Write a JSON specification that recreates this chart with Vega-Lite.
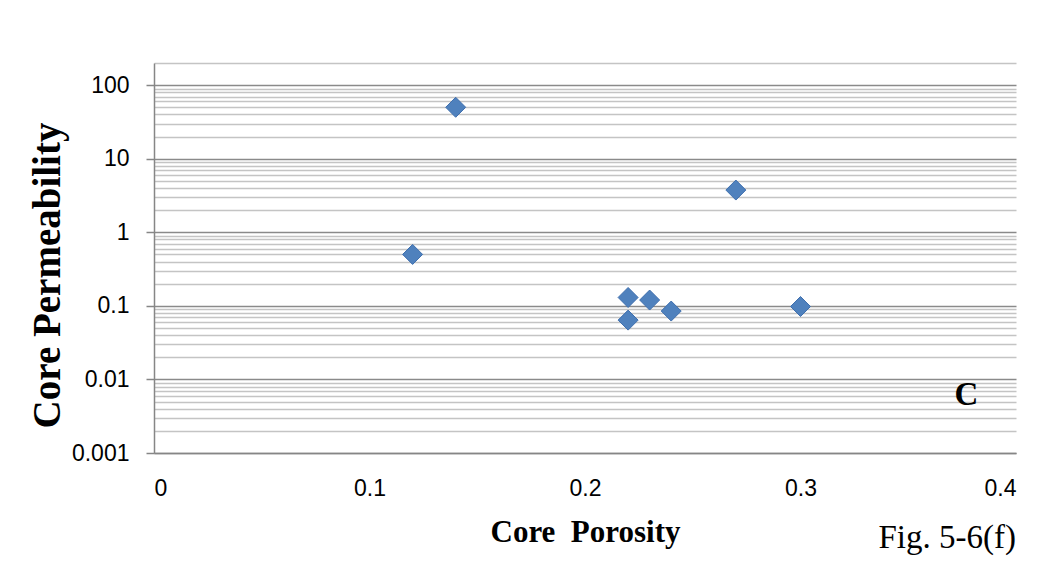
{
  "$schema": "https://vega.github.io/schema/vega-lite/v6.json",
  "autosize": {"type": "none"},
  "padding": {"left": 154, "top": 63, "right": 39, "bottom": 112},
  "width": 862,
  "height": 390,
  "background": "white",
  "title": {
    "text": "Fig. 5-6(f)",
    "orient": "bottom",
    "anchor": "end",
    "font": "Liberation Serif",
    "fontSize": 33,
    "fontWeight": "normal",
    "color": "#000000",
    "offset": -25
  },
  "data": {
    "values": [
      {"porosity": 0.14, "permeability": 50},
      {"porosity": 0.12, "permeability": 0.5},
      {"porosity": 0.22, "permeability": 0.13},
      {"porosity": 0.22, "permeability": 0.064},
      {"porosity": 0.23, "permeability": 0.12},
      {"porosity": 0.24, "permeability": 0.085},
      {"porosity": 0.27, "permeability": 3.75},
      {"porosity": 0.30, "permeability": 0.098}
    ]
  },
  "config": {
    "view": {"stroke": null},
    "axis": {"labelFont": "Liberation Sans", "labelFontSize": 23, "labelColor": "#000000", "titleColor": "#000000"}
  },
  "encoding": {
    "x": {
      "field": "porosity", "type": "quantitative",
      "scale": {"domain": [0, 0.4], "nice": false, "zero": false},
      "axis": {
        "values": [0, 0.1, 0.2, 0.3, 0.4], "format": "~g", "grid": false,
        "ticks": false, "tickSize": 0, "labelPadding": 24,
        "domain": true, "domainColor": "#868686", "domainWidth": 1.5,
        "title": "Core\u00a0\u00a0Porosity", "titleFont": "Liberation Serif", "titleFontSize": 31, "titleFontWeight": "bold", "titlePadding": 17
      }
    }
  },
  "layer": [
    {
      "mark": {"type": "point", "opacity": 0},
      "encoding": {
        "y": {
          "field": "permeability", "type": "quantitative",
          "scale": {"type": "log", "domain": [0.001, 200], "nice": false},
          "axis": {
            "orient": "left",
            "values": [0.002, 0.003, 0.004, 0.005, 0.006, 0.007, 0.008, 0.009, 0.02, 0.03, 0.04, 0.05, 0.06, 0.07, 0.08, 0.09, 0.2, 0.3, 0.4, 0.5, 0.6, 0.7, 0.8, 0.9, 2, 3, 4, 5, 6, 7, 8, 9, 20, 30, 40, 50, 60, 70, 80, 90, 200],
            "labels": false, "ticks": false, "domain": false, "title": null,
            "grid": true, "gridColor": "#c4c4c4", "gridWidth": 1.5
          }
        }
      }
    },
    {
      "mark": {"type": "point", "shape": "diamond", "filled": true, "size": 400, "color": "#4F81BD", "stroke": "#3f6fae", "strokeWidth": 1, "opacity": 1},
      "encoding": {
        "y": {
          "field": "permeability", "type": "quantitative",
          "scale": {"type": "log", "domain": [0.001, 200], "nice": false},
          "axis": {
            "orient": "left",
            "values": [0.001, 0.01, 0.1, 1, 10, 100], "format": "~g",
            "grid": true, "gridColor": "#8a8a8a", "gridWidth": 1.5,
            "ticks": true, "tickSize": 8, "tickColor": "#868686", "tickWidth": 1.5,
            "domain": true, "domainColor": "#868686", "domainWidth": 1.5,
            "labelPadding": 17,
            "title": "Core Permeability", "titleFont": "Liberation Serif", "titleFontSize": 39, "titleFontWeight": "bold", "titlePadding": 4, "titleY": 212
          }
        }
      }
    },
    {
      "data": {"values": [{"label": "C", "px": 0.377, "py": 0.0061}]},
      "mark": {"type": "text", "font": "Liberation Serif", "fontSize": 33, "fontWeight": "bold", "color": "#000000", "align": "center", "baseline": "middle"},
      "encoding": {
        "x": {"field": "px", "type": "quantitative"},
        "y": {"field": "py", "type": "quantitative", "scale": {"type": "log", "domain": [0.001, 200], "nice": false}, "axis": null},
        "text": {"field": "label"}
      }
    }
  ],
  "resolve": {"axis": {"y": "independent"}}
}
